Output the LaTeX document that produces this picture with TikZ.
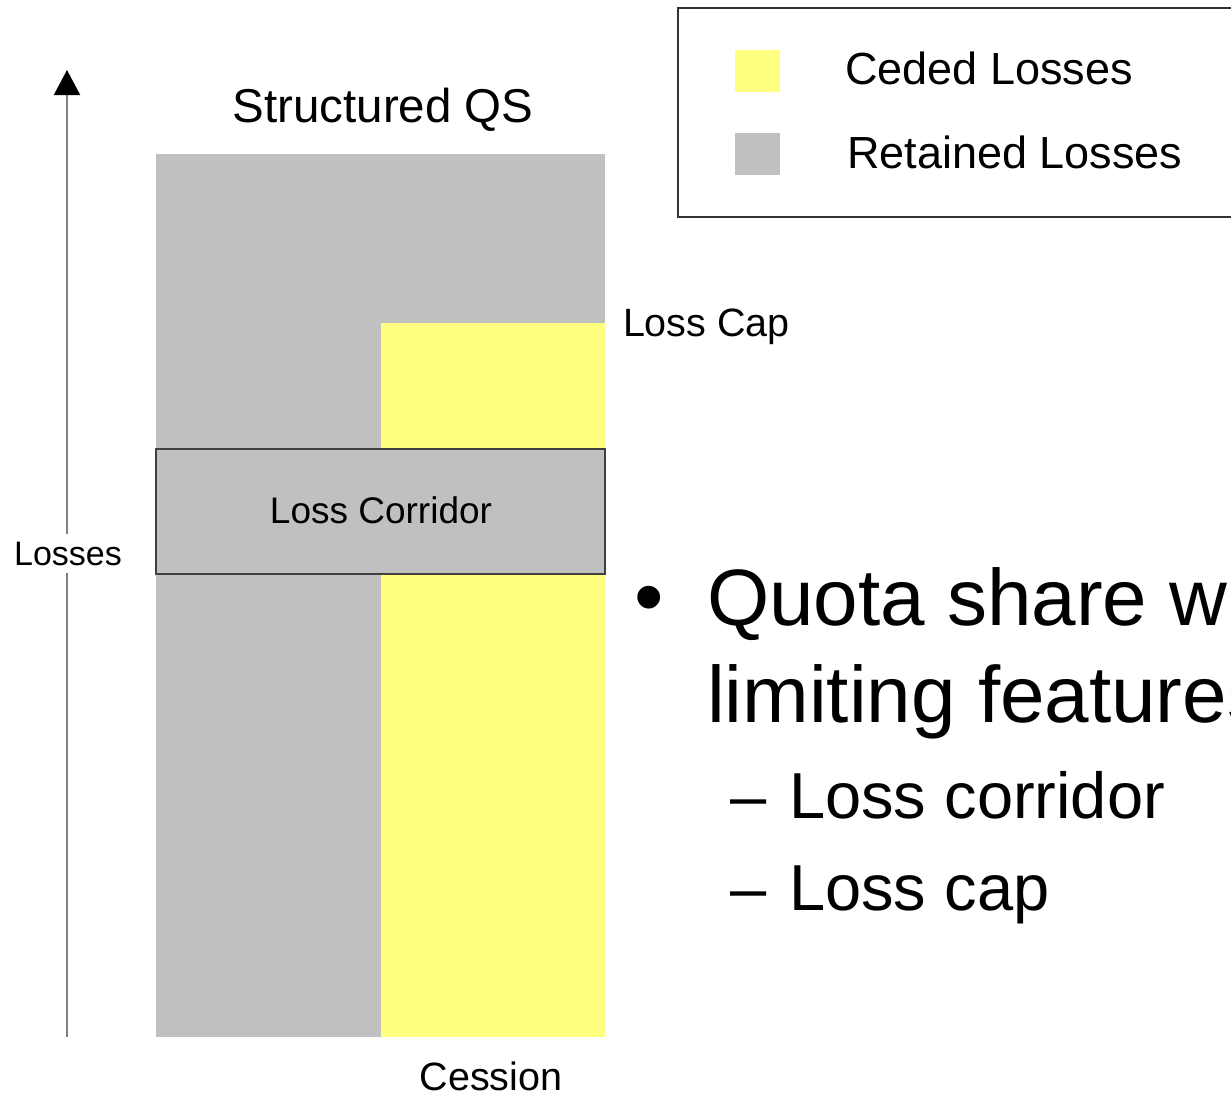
\documentclass[tikz,border=0pt]{standalone}
\usepackage{fontspec}
\setmainfont{Liberation Sans}
\usetikzlibrary{arrows.meta}
\definecolor{ceded}{HTML}{FFFF80}
\definecolor{retained}{HTML}{C0C0C0}
\newcommand{\fs}[1]{\fontsize{#1}{#1}\selectfont}
\tikzset{
  txt/.style={inner sep=0pt, outer sep=0pt, anchor=base west},
  area/.style={inner sep=0pt, outer sep=0pt, draw=none},
  swatch/.style={area, minimum width=45pt, minimum height=42pt, anchor=north west},
}
\begin{document}
\begin{tikzpicture}[x=1pt,y=-1pt]
\useasboundingbox (0,0) rectangle (1231,1096);
\clip (0,0) rectangle (1231,1096);
\fill[white] (0,0) rectangle (1231,1096);
% chart areas
\node[area, fill=retained, minimum width=449pt, minimum height=883pt, anchor=north west] (ret) at (156,154) {};
\node[area, fill=ceded, minimum width=224pt, minimum height=714pt, anchor=north west] (ced) at (381,323) {};
\node[area, fill=retained, draw=black!75, line width=1.2pt, minimum width=449pt, minimum height=125pt, anchor=north west] (corr) at (156,449) {};
\node[txt, anchor=base] at (381,523) {\fs{37}Loss Corridor};
% axis
\coordinate (axb) at (67,1037);
\coordinate (axt) at (67,70);
\draw[black!50, line width=2pt, -{Triangle[black, width=26pt, length=25pt]}] (axb) -- (axt);
\node[txt, anchor=base, fill=white, inner xsep=2pt, inner ysep=8pt] (losses) at (68,565) {\fs{34}Losses};
% labels
\node[txt, anchor=base] (title) at (383,122) {\fs{47.5}Structured QS};
\node[txt] (cap) at (623,336) {\fs{39.5}Loss Cap};
\node[txt, anchor=base] (cession) at (491,1090) {\fs{39.5}Cession};
% legend
\node[area, draw=black!80, line width=1.2pt, minimum width=600pt, minimum height=209pt, anchor=north west] (legend) at (678,8) {};
\node[swatch, fill=ceded] (sw1) at (735,50) {};
\node[swatch, fill=retained] (sw2) at (735,133) {};
\node[txt] (l1) at (845,84) {\fs{45}Ceded Losses};
\node[txt] (l2) at (847,168) {\fs{45}Retained Losses};
% bullet text
\node[txt] (bul) at (634,625) {\fs{84}•};
\node[txt] (q1) at (707,625) {\fs{80}Quota share with};
\node[txt] (q2) at (707,722) {\fs{80}limiting features};
\node[txt] (s1) at (730,818) {\fs{65}–\hspace{5pt} Loss corridor};
\node[txt] (s2) at (730,910) {\fs{65}–\hspace{5pt} Loss cap};
\end{tikzpicture}
\end{document}
